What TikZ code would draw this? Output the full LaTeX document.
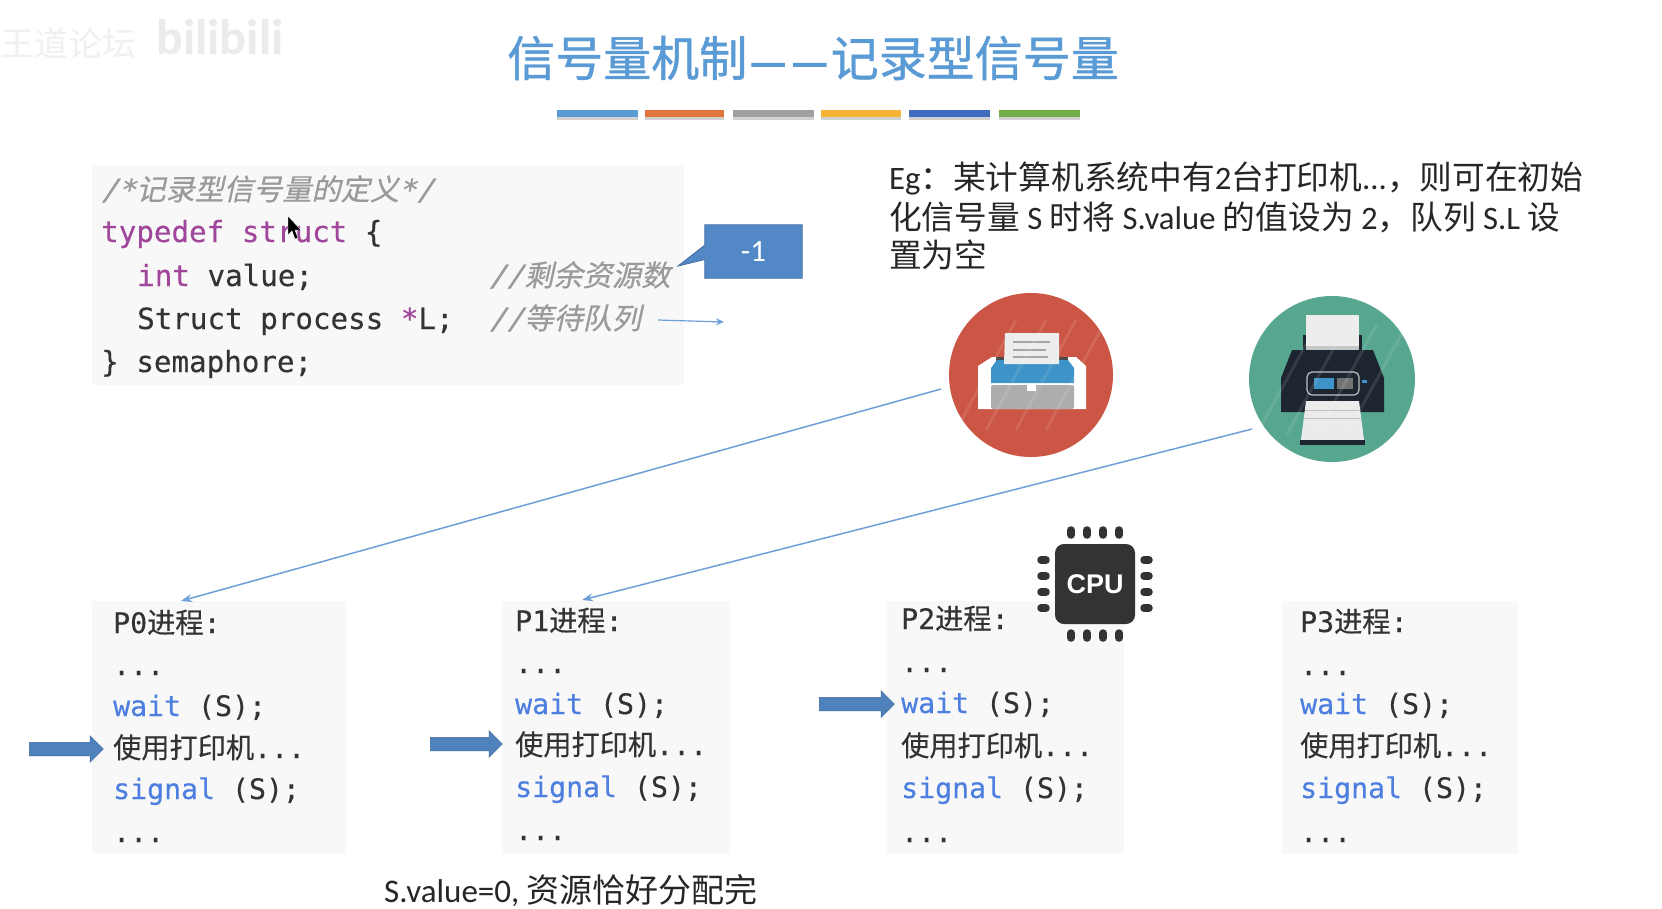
\documentclass[tikz,border=0pt]{standalone}
\usepackage{fontspec}
\usetikzlibrary{shapes.arrows,arrows.meta,calc}
\setmainfont{Carlito}
\setmonofont[FakeBold=0.35]{DejaVu Sans Mono}
\newfontfamily\cjk{Noto Sans CJK SC}
\newfontfamily\cjkb[FakeBold=0.35]{Noto Sans CJK SC}
\newfontfamily\cjkt[FakeBold=0.9]{Noto Sans CJK SC}
\newfontfamily\cjkdash[FakeBold=3.5]{Noto Sans CJK SC}
\newfontfamily\cjkslant[FakeSlant=0.22,FakeBold=0.5]{Noto Sans CJK SC}
\newfontfamily\monoslant[FakeSlant=0.2,FakeBold=0.5]{DejaVu Sans Mono}
\newfontfamily\cpufont{Liberation Sans}
\definecolor{titleblue}{HTML}{5B9BD5}
\definecolor{linkblue}{HTML}{6F9FD8}
\definecolor{arrowblue}{HTML}{4F81BD}
\definecolor{calloutblue}{HTML}{5288C6}
\definecolor{codebg}{HTML}{F8F8F8}
\definecolor{codeink}{HTML}{333333}
\definecolor{kwpurple}{HTML}{A0479B}
\definecolor{kwblue}{HTML}{4C7FE0}
\definecolor{cmtgray}{HTML}{9A9A9A}
\definecolor{printred}{HTML}{CB5645}
\definecolor{printgreen}{HTML}{57A68F}
\definecolor{printdark}{HTML}{1D2630}
\definecolor{printblue}{HTML}{3E93C8}
\newcommand{\kw}[1]{{\color{kwpurple}#1}}
\newcommand{\wt}[1]{{\color{kwblue}#1}}
\newcommand{\cm}[1]{{\color{cmtgray}\monoslant #1}}
\newcommand{\cz}[1]{{\color{cmtgray}\cjkslant #1}}
\tikzset{
  x=1pt,y=-1pt,
  codeline/.style={anchor=west,inner sep=0pt,text height=21pt,text depth=7pt,text=codeink,font=\ttfamily\fontsize{29.2}{32}\selectfont},
  procline/.style={anchor=west,inner sep=0pt,text height=21pt,text depth=7pt,text=codeink,font=\ttfamily\fontsize{28.2}{32}\selectfont},
  procbox/.style={fill=codebg,draw=none,inner sep=0pt,anchor=north west},
  bar/.style={minimum height=7pt,inner sep=0pt,draw=none,anchor=north west},
  eg/.style={anchor=west,inner sep=0pt,text height=24pt,text depth=7pt,text=black!85,font=\fontsize{32.7}{36}\selectfont},
  link/.style={draw=linkblue,line width=1.5pt,-{Stealth[length=11pt,width=8pt]}},
  blockarrow/.style={single arrow,fill=arrowblue,draw=arrowblue!80!black,line width=.5pt,inner sep=0pt,
     text height=13pt,text depth=0pt,text width=1pt,
     single arrow head extend=6.5pt,single arrow head indent=0pt},
  stripe/.style={white,opacity=.1,line width=3pt},
  pin/.style={draw=black!80,line width=7.5pt,line cap=round},
}
\begin{document}
\begin{tikzpicture}
\path[use as bounding box,fill=white] (0,0) rectangle (1662,908);

% watermark
\node[anchor=west,inner sep=0pt,text=black!6,font=\cjk\fontsize{34}{36}\selectfont] (wm1) at (0,43) {王道论坛};
\node[anchor=west,inner sep=0pt,text=black!8,font=\bfseries\fontsize{50}{52}\selectfont] (wm2) at (156,37) {bilibili};

% title
\node[inner sep=0pt,text=titleblue,font=\cjkt\fontsize{48}{50}\selectfont] (title) at (813,58) {信号量机制\kern3pt{\cjkdash\fontsize{40}{50}\selectfont —\kern6pt—}\kern3pt 记录型信号量};
\foreach \xa/\xb/\c [count=\i] in {557/638/5B9BD5,645/724/E2763A,733/814/A0A0A0,821/901/F5B335,909/990/3F6CBF,999/1080/70AD47}{
  \definecolor{barc}{HTML}{\c}
  \fill[black!18] (\xa,112) rectangle (\xb,120);
  \node[bar,fill=barc,minimum width=\xb pt-\xa pt] (bar\i) at (\xa,110) {};
}

% code block
\node[procbox,minimum width=592pt,minimum height=219pt] (codebox) at (92,166) {};
\node[codeline] (c1) at (101,193) {\cm{/*}\cz{记录型信号量的定义}\cm{*/}};
\node[codeline] (c2) at (101,235) {\kw{typedef struct} \{};
\node[codeline] (c3) at (137,279) {\kw{int} value;};
\node[codeline] (c4) at (137,322) {Struct process \kw{*}L;};
\node[codeline] (c5) at (101,365) {\} semaphore;};
\node[codeline] (c3c) at (489,279) {\cm{//}\cz{剩余资源数}};
\node[codeline] (c4c) at (489,322) {\cm{//}\cz{等待队列}};
\coordinate (lsrc) at (658,320);
\coordinate (ldst) at (724,322);
\draw[link,line width=1.2pt,-{Stealth[length=8pt,width=7pt]}] (lsrc) -- (ldst);

% callout
\node[inner sep=0pt,minimum width=97pt,minimum height=53pt] (call) at (753.5,251.5) {};
\coordinate (calltip) at (678,266);
\fill[calloutblue,draw=calloutblue!80!black,line width=.8pt] (call.north west) -- (call.north east) -- (call.south east) -- (call.south west) -- ($(call.south west)!.35!(call.north west)$) -- (calltip) -- ($(call.south west)!.62!(call.north west)$) -- cycle;
\node[inner sep=0pt,text=white,font=\fontsize{31}{32}\selectfont] (calltext) at (call.center) {-1};

% cursor
\fill[black,draw=white,line width=.4pt] (288,216) -- (288,235) -- (292,231) -- (295,239) -- (298,238) -- (295,230) -- (301,230) -- cycle;

% Eg text
\node[eg] (eg1) at (889,181) {Eg{\cjk：某计算机系统中有}2{\cjk 台打印机}...{\cjk ，则可在初始}};
\node[eg] (eg2) at (889,221) {{\cjk 化信号量} S {\cjk 时将} S.value {\cjk 的值设为} 2{\cjk ，队列} S.L {\cjk 设}};
\node[eg] (eg3) at (889,259) {\cjk 置为空};

% printer 1
\node[circle,fill=printred,minimum size=164pt,inner sep=0pt] (pr1) at (1031,375) {};
\begin{scope}
  \fill[white] (978,409) -- (978,366) -- (992,357) -- (1076,357) -- (1086,366) -- (1086,409) -- cycle;
  \fill[black!70] (996,357) rectangle (1068,366);
  \fill[printblue] (991,383) -- (991,368) -- (997,360) -- (1068,360) -- (1074,368) -- (1074,383) -- cycle;
  \fill[black!7] (1005,333) -- (1059,333) -- (1059,364) -- (1004,364) -- cycle;
  \foreach \yy/\xe in {342/1050,350/1046,357/1048}{\draw[black!35,line width=1.2pt] (1013,\yy) -- (\xe,\yy);}
  \fill[black!32,rounded corners=2pt] (991,409) -- (991,385) -- (1074,385) -- (1074,409) -- cycle;
  \fill[white] (1027,385) rectangle (1036,391);
\end{scope}
\foreach \dx in {-55,-25,5,35}{\draw[stripe] ($(pr1)+(\dx-20,55)$) -- ($(pr1)+(\dx+40,-55)$);}

% printer 2
\node[circle,fill=printgreen,minimum size=166pt,inner sep=0pt] (pr2) at (1332,379) {};
\begin{scope}
  \fill[printdark] (1303,352) -- (1303,335) -- (1362,335) -- (1362,352) -- cycle;
  \fill[black!7] (1306,315) rectangle (1359,346);
  \fill[black!22] (1306,346) rectangle (1359,352);
  \fill[printdark] (1292,350) -- (1373,350) -- (1384,378) -- (1384,412) -- (1281,412) -- (1281,378) -- cycle;
  \fill[black!8] (1301,440) -- (1306,401) -- (1359,401) -- (1364,440) -- cycle;
  \draw[black!25,line width=.8pt] (1305,410) -- (1360,410) (1304,418) -- (1361,418);
  \fill[printdark] (1300,440) rectangle (1365,445);
  \fill[printdark,draw=black!25,line width=1.2pt,rounded corners=5pt] (1307,372) rectangle (1359,395);
  \fill[printblue] (1314,378) rectangle (1334,389);
  \fill[black!55] (1337,378) rectangle (1353,389);
  \fill[printblue] (1362,380) rectangle (1367,383);
\end{scope}
\foreach \dx in {-55,-25,5,35}{\draw[stripe] ($(pr2)+(\dx-20,55)$) -- ($(pr2)+(\dx+40,-55)$);}

% process boxes
\node[procbox,minimum width=254pt,minimum height=253pt] (P0) at (92,601) {};
\node[procbox,minimum width=228pt,minimum height=253pt] (P1) at (502,601) {};
\node[procbox,minimum width=237pt,minimum height=253pt] (P2) at (887,601) {};
\node[procbox,minimum width=236pt,minimum height=253pt] (P3) at (1282,601) {};

\newcommand{\proc}[8]{%
  \node[procline] (#1a) at (#2,#3) {P#1{\cjkb 进程}:};
  \node[procline] (#1b) at (#2,#4) {...};
  \node[procline] (#1c) at (#2,#5) {\wt{wait} (S);};
  \node[procline] (#1d) at (#2,#6) {{\cjkb 使用打印机}...};
  \node[procline] (#1e) at (#2,#7) {\wt{signal} (S);};
  \node[procline] (#1f) at (#2,#8) {...};
}
\proc{0}{113}{626}{668}{709}{751}{792}{835}
\proc{1}{515}{624}{666}{707}{748}{790}{833}
\proc{2}{901}{622}{665}{706}{749}{791}{835}
\proc{3}{1300}{625}{668}{707}{749}{791}{835}

% links from printers to processes
\coordinate (l1a) at (941,389); \coordinate (l1b) at (181,601);
\coordinate (l2a) at (1252,429); \coordinate (l2b) at (582,600);
\draw[link] (l1a) -- (l1b);
\draw[link] (l2a) -- (l2b);

% block arrows
\node[blockarrow,minimum height=74pt] (a0) at (63,749) {};
\node[blockarrow,minimum height=72pt] (a1) at (463,744) {};
\node[blockarrow,minimum height=75pt] (a2) at (853.5,704) {};

% CPU
\node[fill=black!80,rounded corners=9pt,minimum size=80pt,inner sep=0pt,text=white,font=\cpufont\bfseries\fontsize{27}{28}\selectfont] (cpu) at (1095,584) {CPU};
\foreach \d in {-24,-8,8,24}{
  \draw[pin] ($(cpu.center)+(\d,-49)$) -- ($(cpu.center)+(\d,-54)$);
  \draw[pin] ($(cpu.center)+(\d,49)$) -- ($(cpu.center)+(\d,54)$);
  \draw[pin] ($(cpu.center)+(-49,\d)$) -- ($(cpu.center)+(-54,\d)$);
  \draw[pin] ($(cpu.center)+(49,\d)$) -- ($(cpu.center)+(54,\d)$);
}

% note
\node[anchor=west,inner sep=0pt,text=black!85,font=\fontsize{33}{36}\selectfont] (note) at (384,891) {S.value=0, {\cjk 资源恰好分配完}};
\end{tikzpicture}
\end{document}
